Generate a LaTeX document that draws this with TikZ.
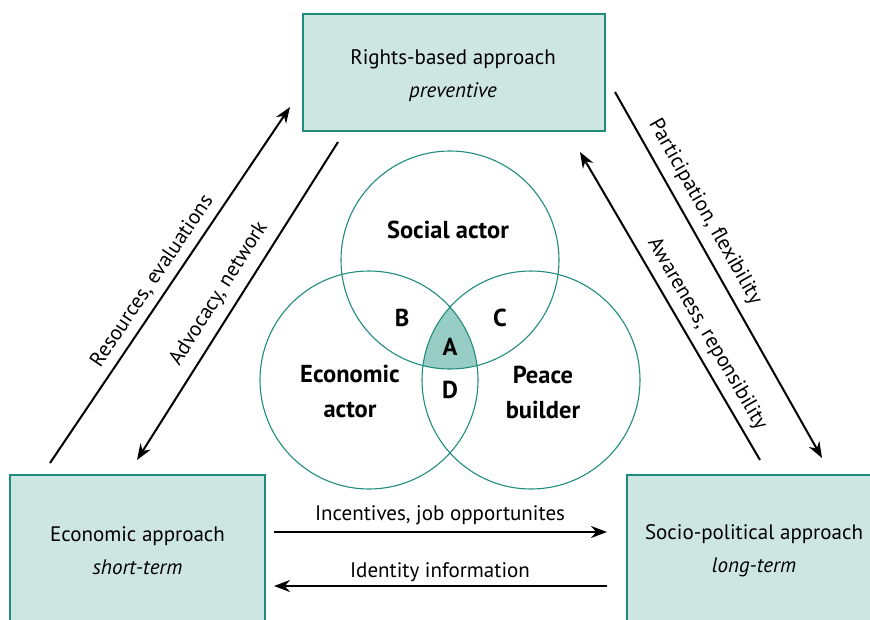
\documentclass[tikz,border=0pt]{standalone}
\usepackage{fontspec}
\setmainfont{PT Sans}
\usetikzlibrary{arrows.meta}
\definecolor{tealline}{RGB}{32,140,125}
\definecolor{boxfill}{RGB}{206,230,226}
\definecolor{afill}{RGB}{152,205,197}
\begin{document}
\begin{tikzpicture}[x=1pt,y=-1pt,
  approach/.style={draw=tealline, line width=1.3pt, fill=boxfill,
    font=\fontsize{21}{33}\selectfont, align=center, inner sep=0pt},
  approachtext/.style={font=\fontsize{21}{33}\selectfont, align=center, inner sep=0pt},
  flow/.style={line width=2pt, -{Stealth[length=16pt,width=12pt]}},
  flowlabel/.style={font=\fontsize{21}{24}\selectfont, inner sep=0pt},
  venn/.style={circle, draw=tealline, line width=1.1pt, minimum size=218pt, inner sep=0pt},
  vennlabel/.style={font=\fontsize{24.5}{35}\selectfont\bfseries, align=center, inner sep=0pt}]
\useasboundingbox (0,0) rectangle (870,619);
\clip (0,0) rectangle (870,619);
% boxes
\node[approach, minimum width=302pt, minimum height=117pt] (rb) at (454,72.5) {};
\node[approachtext] (rbt) at (453,75.5) {Rights-based approach\\\textit{preventive}};
\node[approach, minimum width=255pt, minimum height=151pt] (ec) at (137.5,550.5)
  {Economic approach\\\textit{short-term}};
\node[approach, minimum width=254pt, minimum height=151pt] (sp) at (754,550.5)
  {Socio-political approach\\\textit{long-term}};
% venn centre fill
\begin{scope}
  \clip (450,260) circle (109pt);
  \clip (369,380) circle (109pt);
  \fill[afill] (531,380) circle (109pt);
\end{scope}
\node[venn] (soc) at (450,260) {};
\node[venn] (eco) at (369,380) {};
\node[venn] (pea) at (531,380) {};
\node[vennlabel] (socl) at (448,230) {Social actor};
\node[vennlabel] (ecol) at (350,391) {Economic\\actor};
\node[vennlabel] (peal) at (543,392) {Peace\\builder};
\node[vennlabel] (la) at (450,347) {A};
\node[vennlabel] (lb) at (402,318) {B};
\node[vennlabel] (lc) at (500,318) {C};
\node[vennlabel] (ld) at (450,390) {D};
% arrow end points
\coordinate (r1s) at (50,463);   \coordinate (r1e) at (290,107);
\coordinate (a1s) at (338,142);  \coordinate (a1e) at (137,460);
\coordinate (p1s) at (615,92);   \coordinate (p1e) at (822,458);
\coordinate (w1s) at (760,460);  \coordinate (w1e) at (580,152);
\coordinate (i1s) at (274,532);  \coordinate (i1e) at (607,532);
\coordinate (d1s) at (607,586);  \coordinate (d1e) at (274,586);
\draw[flow] (r1s) -- (r1e);
\draw[flow] (a1s) -- (a1e);
\draw[flow] (p1s) -- (p1e);
\draw[flow] (w1s) -- (w1e);
\draw[flow] (i1s) -- (i1e);
\draw[flow] (d1s) -- (d1e);
% labels
\node[flowlabel, rotate=56] (lr) at (152,281) {Resources, evaluations};
\node[flowlabel, rotate=57.7] (lad) at (219,294) {Advocacy, network};
\node[flowlabel, rotate=-60.5] (lp) at (705,212) {Participation, flexibility};
\node[flowlabel, rotate=-59.7] (lw) at (707,334) {Awareness, reponsibility};
\node[flowlabel] (li) at (440,515) {Incentives, job opportunites};
\node[flowlabel] (lid) at (440,572) {Identity information};
\end{tikzpicture}
\end{document}
